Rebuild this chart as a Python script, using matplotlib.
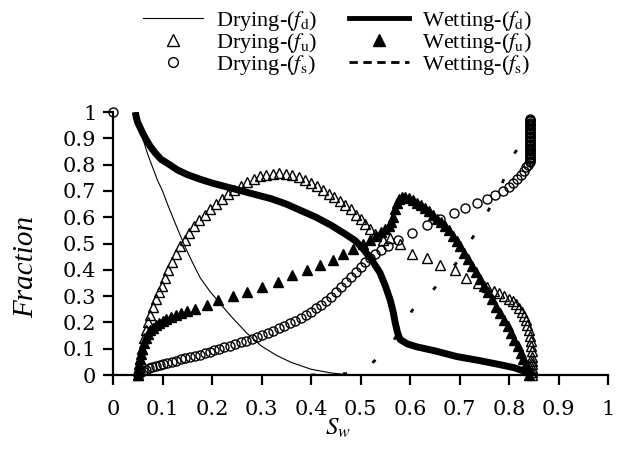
import matplotlib
matplotlib.use("Agg")
import matplotlib.pyplot as plt
from matplotlib.lines import Line2D

plt.rcParams["font.family"] = ["Liberation Serif", "DejaVu Serif"]
plt.rcParams["mathtext.fontset"] = "stix"

# Drying, f_d (thin line)
dry_fd_sw = [0.050, 0.055, 0.060, 0.070, 0.080, 0.090, 0.100, 0.110, 0.125, 0.145, 0.160,
             0.176, 0.195, 0.215, 0.240, 0.270, 0.300, 0.330, 0.360, 0.400, 0.440, 0.480]
dry_fd = [1.00, 0.95, 0.90, 0.84, 0.79, 0.74, 0.70, 0.65, 0.58, 0.49, 0.43,
          0.37, 0.32, 0.275, 0.22, 0.16, 0.11, 0.075, 0.048, 0.022, 0.008, 0.0]

# Drying, f_u (open triangles)
dry_fu_sw = [0.050, 0.052, 0.055, 0.058, 0.062, 0.066, 0.070, 0.075, 0.080, 0.086, 0.092, 0.098,
             0.105, 0.112, 0.120, 0.128, 0.136, 0.145, 0.154, 0.164, 0.174, 0.185, 0.196, 0.208,
             0.220, 0.232, 0.245, 0.258, 0.271, 0.284, 0.297, 0.310, 0.323, 0.336, 0.349, 0.362,
             0.375, 0.388, 0.400, 0.412, 0.424, 0.436, 0.447, 0.458, 0.469, 0.480, 0.490, 0.500,
             0.510, 0.520, 0.530, 0.545, 0.560, 0.580, 0.605, 0.634, 0.660, 0.690, 0.714, 0.737,
             0.755, 0.770, 0.780, 0.790, 0.800, 0.808, 0.815, 0.821, 0.826, 0.830, 0.834, 0.837,
             0.840, 0.842, 0.844, 0.845, 0.846, 0.846, 0.846, 0.846, 0.846, 0.846, 0.846]
dry_fu = [0.0, 0.03, 0.06, 0.10, 0.14, 0.17, 0.20, 0.23, 0.26, 0.29, 0.315, 0.34,
          0.37, 0.40, 0.43, 0.46, 0.49, 0.515, 0.54, 0.565, 0.59, 0.61, 0.63, 0.65,
          0.67, 0.69, 0.705, 0.72, 0.735, 0.745, 0.755, 0.76, 0.765, 0.768, 0.765, 0.76,
          0.752, 0.742, 0.73, 0.718, 0.705, 0.69, 0.675, 0.66, 0.645, 0.63, 0.61, 0.595,
          0.575, 0.555, 0.535, 0.515, 0.52, 0.50, 0.46, 0.445, 0.42, 0.40, 0.37, 0.35,
          0.335, 0.32, 0.31, 0.30, 0.29, 0.28, 0.27, 0.255, 0.24, 0.225, 0.21, 0.19,
          0.17, 0.15, 0.13, 0.11, 0.09, 0.07, 0.055, 0.04, 0.025, 0.01, 0.0]

# Drying, f_s (open circles)
dry_fs_sw = [0.0, 0.050, 0.055, 0.060, 0.066, 0.072, 0.079, 0.086, 0.094, 0.102, 0.110, 0.119,
             0.128, 0.137, 0.146, 0.155, 0.165, 0.175, 0.185, 0.195, 0.205, 0.215, 0.225,
             0.236, 0.247, 0.258, 0.269, 0.280, 0.291, 0.302, 0.313, 0.324, 0.335, 0.346,
             0.357, 0.368, 0.379, 0.390, 0.400, 0.410, 0.420, 0.430, 0.440, 0.450, 0.460,
             0.470, 0.480, 0.490, 0.500, 0.510, 0.520, 0.530, 0.542, 0.555, 0.575, 0.605,
             0.635, 0.660, 0.688, 0.712, 0.735, 0.755, 0.772, 0.787, 0.799, 0.809, 0.817,
             0.824, 0.830, 0.835, 0.839, 0.842,
             0.843, 0.843, 0.843, 0.843, 0.843, 0.843, 0.843, 0.843, 0.843, 0.843,
             0.843, 0.843, 0.843, 0.843, 0.843, 0.843, 0.843, 0.843, 0.843, 0.843,
             0.843, 0.843, 0.843, 0.843, 0.843, 0.843, 0.843, 0.843, 0.843, 0.843,
             0.843, 0.843, 0.843]
dry_fs = [1.0, 0.0, 0.008, 0.014, 0.02, 0.025, 0.03, 0.035, 0.039, 0.043, 0.047, 0.051,
          0.055, 0.059, 0.063, 0.067, 0.072, 0.077, 0.082, 0.088, 0.094, 0.10, 0.106,
          0.112, 0.118, 0.124, 0.131, 0.138, 0.145, 0.152, 0.16, 0.168, 0.177, 0.186,
          0.196, 0.206, 0.217, 0.228, 0.24, 0.253, 0.267, 0.282, 0.298, 0.315, 0.333,
          0.352, 0.372, 0.392, 0.41, 0.428, 0.445, 0.46, 0.475, 0.49, 0.515, 0.54,
          0.57, 0.595, 0.615, 0.635, 0.655, 0.67, 0.685, 0.70, 0.715, 0.73, 0.745,
          0.76, 0.775, 0.79, 0.80, 0.81,
          0.815, 0.82, 0.825, 0.83, 0.835, 0.84, 0.845, 0.85, 0.855, 0.86,
          0.865, 0.87, 0.875, 0.88, 0.885, 0.89, 0.895, 0.90, 0.905, 0.91,
          0.915, 0.92, 0.925, 0.93, 0.935, 0.94, 0.945, 0.95, 0.955, 0.96,
          0.965, 0.97, 0.975]

# Wetting, f_d (thick line)
wet_fd_sw = [0.045, 0.047, 0.050, 0.055, 0.060, 0.067, 0.075, 0.085, 0.097, 0.110, 0.130, 0.150,
             0.175, 0.200, 0.230, 0.260, 0.290, 0.320, 0.350, 0.380, 0.410, 0.440, 0.470, 0.490,
             0.505, 0.520, 0.539, 0.550, 0.560, 0.566, 0.570, 0.575, 0.580, 0.595, 0.614, 0.650,
             0.695, 0.740, 0.780, 0.810, 0.830, 0.845]
wet_fd = [1.0, 0.98, 0.96, 0.94, 0.92, 0.895, 0.87, 0.845, 0.82, 0.805, 0.78, 0.762,
          0.745, 0.73, 0.715, 0.70, 0.685, 0.67, 0.65, 0.625, 0.60, 0.57, 0.535, 0.51,
          0.48, 0.445, 0.39, 0.34, 0.285, 0.24, 0.20, 0.16, 0.135, 0.118, 0.107, 0.092,
          0.07, 0.055, 0.04, 0.028, 0.015, 0.0]

# Wetting, f_u (filled triangles)
wet_fu_sw = [0.050, 0.051, 0.052, 0.054, 0.056, 0.059, 0.062, 0.066, 0.070, 0.075, 0.080, 0.086,
             0.092, 0.100, 0.108, 0.117, 0.127, 0.138, 0.150, 0.166, 0.189, 0.213, 0.243,
             0.270, 0.300, 0.333, 0.361, 0.391, 0.418, 0.445, 0.465, 0.485, 0.505, 0.520,
             0.532, 0.542, 0.550, 0.558, 0.562, 0.566, 0.570, 0.574, 0.578, 0.583, 0.590,
             0.598, 0.606, 0.614, 0.622, 0.630, 0.638, 0.646, 0.654, 0.662, 0.670, 0.678,
             0.686, 0.694, 0.702, 0.710, 0.718, 0.726, 0.734, 0.742, 0.750, 0.758, 0.766,
             0.774, 0.782, 0.790, 0.797, 0.804, 0.811, 0.818, 0.824, 0.829, 0.834, 0.838,
             0.841]
wet_fu = [0.0, 0.02, 0.04, 0.06, 0.08, 0.10, 0.12, 0.14, 0.155, 0.17, 0.18, 0.19,
          0.197, 0.205, 0.212, 0.22, 0.228, 0.236, 0.243, 0.25, 0.266, 0.285, 0.30,
          0.317, 0.336, 0.355, 0.38, 0.40, 0.418, 0.437, 0.46, 0.48, 0.50, 0.515,
          0.53, 0.545, 0.555, 0.565, 0.58, 0.60, 0.63, 0.655, 0.67, 0.678, 0.677,
          0.672, 0.665, 0.655, 0.645, 0.635, 0.622, 0.61, 0.595, 0.58, 0.565, 0.55,
          0.53, 0.51, 0.49, 0.465, 0.44, 0.415, 0.39, 0.365, 0.34, 0.315, 0.29,
          0.26, 0.235, 0.21, 0.185, 0.16, 0.135, 0.11, 0.085, 0.06, 0.04, 0.02,
          0.0]

# Wetting, f_s (dashed line)
wet_fs_sw = [0.400, 0.470, 0.500, 0.520, 0.556, 0.580, 0.604, 0.645, 0.700, 0.745, 0.780,
             0.810, 0.825, 0.835, 0.840, 0.842]
wet_fs = [0.0, 0.005, 0.02, 0.04, 0.10, 0.17, 0.245, 0.32, 0.44, 0.58, 0.70,
          0.84, 0.88, 0.92, 0.96, 0.97]

ticks = [0, 0.1, 0.2, 0.3, 0.4, 0.5, 0.6, 0.7, 0.8, 0.9, 1]
tick_labels = ["0", "0.1", "0.2", "0.3", "0.4", "0.5", "0.6", "0.7", "0.8", "0.9", "1"]

fig = plt.figure(figsize=(6.25, 4.57), dpi=100)
ax = fig.add_axes([0.1808, 0.1794, 0.792, 0.5755])

ax.plot(dry_fd_sw, dry_fd, color="black", lw=0.8)
ax.plot(wet_fd_sw, wet_fd, color="black", lw=5, solid_capstyle="butt")
ax.plot(wet_fs_sw, wet_fs, color="black", lw=2, linestyle=(0, (1.5, 10)))
ax.plot(dry_fu_sw, dry_fu, "^", ms=7, mfc="none", mec="black", mew=1.0, clip_on=False)
ax.plot(dry_fs_sw, dry_fs, "o", ms=6.5, mfc="none", mec="black", mew=1.0, clip_on=False)
ax.plot(wet_fu_sw, wet_fu, "^", ms=7, mfc="black", mec="black", clip_on=False)

ax.set_xlim(0, 1)
ax.set_ylim(0, 1)
ax.spines["top"].set_visible(False)
ax.spines["right"].set_visible(False)
ax.spines["left"].set_linewidth(1.6)
ax.spines["bottom"].set_linewidth(1.6)
ax.set_xticks(ticks)
ax.set_yticks(ticks)
ax.set_xticklabels(tick_labels, family="DejaVu Serif", fontsize=15)
ax.set_yticklabels(tick_labels, family="DejaVu Serif", fontsize=15)
ax.tick_params(axis="x", direction="out", length=7, width=1.6, pad=11)
ax.tick_params(axis="y", direction="out", length=7, width=1.6, pad=5)

ax.set_xlabel("$S_w$", fontsize=18)
ax.xaxis.set_label_coords(0.455, -0.16)
ax.set_ylabel("Fraction", fontsize=21, style="italic")
ax.yaxis.set_label_coords(-0.15, 0.41)

handles = [
    Line2D([], [], color="black", lw=0.8),
    Line2D([], [], marker="^", ls="none", ms=8, mfc="none", mec="black"),
    Line2D([], [], marker="o", ls="none", ms=7, mfc="none", mec="black"),
    Line2D([], [], color="black", lw=3.5),
    Line2D([], [], marker="^", ls="none", ms=9, mfc="black", mec="black"),
    Line2D([], [], color="black", lw=2, linestyle=(0, (3, 2))),
]
labels = [
    r"Drying-($f_{\mathrm{d}}$)",
    r"Drying-($f_{\mathrm{u}}$)",
    r"Drying-($f_{\mathrm{s}}$)",
    r"Wetting-($f_{\mathrm{d}}$)",
    r"Wetting-($f_{\mathrm{u}}$)",
    r"Wetting-($f_{\mathrm{s}}$)",
]
fig.legend(handles, labels, ncol=2, loc="upper center", bbox_to_anchor=(0.54, 1.025),
           frameon=False, fontsize=16, handlelength=2.7, handletextpad=0.6,
           columnspacing=1.4, labelspacing=-0.08)

fig.savefig("out.png", dpi=100)
